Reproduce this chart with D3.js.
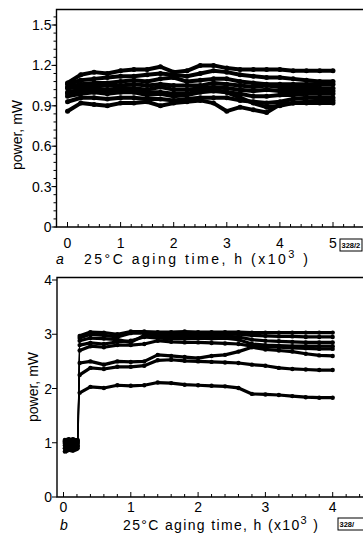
<!DOCTYPE html>
<html><head><meta charset="utf-8">
<script src="https://cdn.jsdelivr.net/npm/d3@7"></script>
<style>
body{margin:0;background:#fff}
svg{display:block}
text{font-family:"Liberation Sans",Arial,sans-serif;fill:#000}
</style>
</head><body>
<svg id="c" width="363" height="536"></svg>
<script>
// ---------- panel a data ----------
const topXTicks = [0, 1, 2, 3, 4, 5];
const topYTicks = [0, 0.3, 0.6, 0.9, 1.2, 1.5];
const topTime = [0,0.25,0.5,0.75,1,1.25,1.5,1.75,2,2.25,2.5,2.75,3,3.25,3.5,3.75,4,4.25,4.5,4.75,5];
const topS1 = [1.07,1.13,1.15,1.14,1.16,1.17,1.17,1.19,1.15,1.16,1.20,1.20,1.18,1.17,1.17,1.17,1.17,1.16,1.16,1.16,1.16];
const topS2 = [1.06,1.09,1.10,1.11,1.12,1.12,1.13,1.14,1.13,1.12,1.14,1.16,1.15,1.13,1.12,1.11,1.11,1.10,1.09,1.08,1.08];
const topS3 = [1.04,1.06,1.07,1.07,1.08,1.09,1.08,1.10,1.11,1.08,1.09,1.10,1.10,1.08,1.07,1.06,1.06,1.06,1.06,1.06,1.06];
const topS4 = [1.03,1.04,1.05,1.05,1.05,1.06,1.05,1.06,1.05,1.05,1.05,1.07,1.06,1.05,1.04,1.05,1.04,1.04,1.04,1.03,1.03];
const topS5 = [1.00,1.02,1.03,1.02,1.03,1.03,1.02,1.04,1.02,1.02,1.03,1.04,1.03,1.02,1.01,1.02,1.01,1.01,1.01,1.01,1.01];
const topS6 = [0.97,0.99,1.00,0.99,1.00,1.00,0.98,0.99,0.97,0.98,1.00,1.01,1.00,0.99,0.97,0.97,0.98,0.98,0.99,0.99,0.99];
const topS7 = [0.93,0.96,0.96,0.95,0.96,0.96,0.95,0.95,0.94,0.95,0.96,0.96,0.96,0.94,0.93,0.92,0.93,0.95,0.96,0.96,0.96];
const topS8 = [0.99,1.00,1.01,1.00,1.01,1.01,1.00,1.00,0.99,0.99,1.01,1.02,1.00,0.96,0.92,0.89,0.90,0.92,0.93,0.94,0.94];
const topS9 = [0.86,0.92,0.91,0.90,0.92,0.92,0.93,0.90,0.92,0.93,0.94,0.92,0.86,0.89,0.87,0.85,0.91,0.92,0.92,0.92,0.92];
const topSeries = [topS1, topS2, topS3, topS4, topS5, topS6, topS7, topS8, topS9];

// ---------- panel b data ----------
const botXTicks = [0, 1, 2, 3, 4];
const botYTicks = [0, 1, 2, 3, 4];
const botTime = [0.02,0.08,0.14,0.21,0.24,0.4,0.6,0.8,1.0,1.2,1.4,1.6,1.8,2.0,2.2,2.4,2.6,2.8,3.0,3.2,3.4,3.6,3.8,4.0];
const botA = [0.84,0.88,0.86,0.90, 1.92,2.03,2.01,2.06,2.05,2.06,2.11,2.10,2.07,2.06,2.05,2.04,2.01,1.90,1.89,1.88,1.86,1.84,1.83,1.83];
const botB = [0.95,0.92,0.97,0.93, 2.25,2.38,2.36,2.40,2.40,2.42,2.52,2.53,2.51,2.50,2.49,2.48,2.47,2.44,2.42,2.38,2.36,2.35,2.34,2.34];
const botC = [1.02,0.98,1.04,1.00, 2.47,2.50,2.44,2.50,2.49,2.50,2.62,2.60,2.58,2.56,2.60,2.62,2.68,2.76,2.72,2.70,2.68,2.64,2.61,2.60];
const botD = [1.05,1.00,1.06,1.02, 2.70,2.78,2.76,2.80,2.80,2.82,2.88,2.86,2.85,2.85,2.84,2.83,2.82,2.78,2.77,2.76,2.75,2.74,2.73,2.73];
const botE = [0.98,1.04,0.99,1.05, 2.80,2.84,2.82,2.86,2.88,2.95,2.93,2.92,2.92,2.93,2.92,2.93,2.90,2.82,2.80,2.79,2.78,2.78,2.78,2.78];
const botF = [1.00,0.96,1.02,0.98, 2.88,2.93,2.92,2.90,2.85,2.98,2.98,2.98,2.97,2.97,2.96,2.96,2.95,2.90,2.88,2.87,2.86,2.85,2.85,2.85];
const botG = [1.03,1.06,1.01,1.04, 2.93,3.00,2.98,2.95,3.02,3.02,3.01,3.01,3.02,3.01,3.00,3.00,3.00,2.98,2.97,2.96,2.96,2.95,2.95,2.95];
const botH = [0.90,0.94,0.91,0.95, 2.97,3.04,3.03,3.00,3.05,3.05,3.04,3.04,3.05,3.04,3.04,3.04,3.04,3.03,3.03,3.03,3.03,3.03,3.03,3.03];
const botSeries = [botA, botB, botC, botD, botE, botF, botG, botH];
const botPreCount = 4;

const svg = d3.select("#c");

function drawPanel(o) {
  const g = svg.append("g");
  const x = d3.scaleLinear().domain(o.xDom).range(o.xRange);
  const y = d3.scaleLinear().domain(o.yDom).range(o.yRange);
  const L = o.left, T = o.top, B = y(0), R = 375;
  g.append("path").attr("d", `M${R},${T}H${L}V${B}H${R}`)
    .attr("fill", "none").attr("stroke", "#000").attr("stroke-width", 1.4);
  d3.range(0, o.xMinorMax + 1e-9, 0.2).forEach(v => {
    const major = Math.abs(v - Math.round(v)) < 1e-6;
    g.append("line").attr("x1", x(v)).attr("x2", x(v))
      .attr("y1", B).attr("y2", B - (major ? 5 : 3))
      .attr("stroke", "#000").attr("stroke-width", 1);
  });
  o.xTicks.forEach(v => {
    g.append("text").attr("x", x(v)).attr("y", o.xLabY).attr("text-anchor", "middle")
      .attr("font-size", 14).text(v);
  });
  if (o.yMinor) {
    d3.range(0, o.yDom[1] + 0.06, o.yMinor).forEach(v => {
      if (y(v) < T) return;
      g.append("line").attr("x1", L).attr("x2", L - 3).attr("y1", y(v)).attr("y2", y(v))
        .attr("stroke", "#000").attr("stroke-width", 1);
    });
  }
  o.yTicks.forEach(v => {
    g.append("line").attr("x1", L).attr("x2", L - 5).attr("y1", y(v)).attr("y2", y(v))
      .attr("stroke", "#000").attr("stroke-width", 1);
    g.append("text").attr("x", L - 5).attr("y", y(v) + 5).attr("text-anchor", "end")
      .attr("font-size", 14).text(v);
  });
  g.append("text").attr("transform", `translate(${o.yTitleX},${o.yTitleY}) rotate(-90)`)
    .attr("text-anchor", "middle").attr("font-size", 14).text("power, mW");
  g.append("text").attr("x", o.letterX).attr("y", o.titleY).attr("font-size", 14)
    .attr("font-style", "italic").text(o.letter);
  const t = g.append("text").attr("x", o.titleX0).attr("y", o.titleY).attr("font-size", 14)
    .attr("textLength", o.titleW).attr("lengthAdjust", "spacing");
  t.append("tspan").text("25°C aging time, h  (x10");
  t.append("tspan").attr("dy", -6).attr("font-size", 11).text("3");
  t.append("tspan").attr("dy", 6).text(" )");
  g.append("rect").attr("x", o.boxX).attr("y", o.boxY).attr("width", o.boxW).attr("height", 12)
    .attr("fill", "none").attr("stroke", "#000").attr("stroke-width", 1);
  g.append("text").attr("x", o.boxX + 1.5).attr("y", o.boxY + 9.3).attr("font-size", 7.5)
    .attr("font-weight", "bold").text(o.code);
  return {g, x, y};
}

// ----- panel a -----
const pa = drawPanel({
  xDom: [0, 5], xRange: [67.5, 333], yDom: [0, 1.5], yRange: [227, 25],
  left: 56.5, top: 9.5, xMinorMax: 5.6, xTicks: topXTicks, yTicks: topYTicks, yMinor: 0.06,
  xLabY: 248, yTitleX: 22, yTitleY: 135, letter: "a", letterX: 56, titleY: 264,
  titleX0: 84, titleW: 224, boxX: 340, boxY: 239, boxW: 22, code: "328/2"
});
const lineA = d3.line().x((d, i) => pa.x(topTime[i])).y(d => pa.y(d));
topSeries.forEach(s => {
  pa.g.append("path").attr("d", lineA(s)).attr("fill", "none").attr("stroke", "#000")
    .attr("stroke-width", 4).attr("stroke-linejoin", "round");
  pa.g.selectAll(null).data(s).enter().append("circle")
    .attr("cx", (d, i) => pa.x(topTime[i])).attr("cy", d => pa.y(d)).attr("r", 2.5).attr("fill", "#000");
});

// ----- panel b -----
const pb = drawPanel({
  xDom: [0, 4], xRange: [63.5, 332.7], yDom: [0, 4], yRange: [497, 280],
  left: 57, top: 277.5, xMinorMax: 4.5, xTicks: botXTicks, yTicks: botYTicks, yMinor: null,
  xLabY: 512, yTitleX: 38, yTitleY: 387, letter: "b", letterX: 60, titleY: 530,
  titleX0: 123, titleW: 195, boxX: 338, boxY: 518, boxW: 30, code: "328/"
});
const lineB = d3.line().x(d => pb.x(d.t)).y(d => pb.y(d.v));
botSeries.forEach(s => {
  const pts = s.map((v, i) => ({t: botTime[i], v}));
  const pre = pts.slice(0, botPreCount), post = pts.slice(botPreCount);
  const jump = pts.slice(botPreCount - 1, botPreCount + 1);
  pb.g.append("path").attr("d", lineB(pre)).attr("fill", "none").attr("stroke", "#000")
    .attr("stroke-width", 5).attr("stroke-linejoin", "round");
  pb.g.append("path").attr("d", lineB(jump)).attr("fill", "none").attr("stroke", "#000")
    .attr("stroke-width", 1);
  pb.g.append("path").attr("d", lineB(post)).attr("fill", "none").attr("stroke", "#000")
    .attr("stroke-width", 3.2).attr("stroke-linejoin", "round");
  pb.g.selectAll(null).data(pts).enter().append("circle")
    .attr("cx", d => pb.x(d.t)).attr("cy", d => pb.y(d.v)).attr("r", 2.2).attr("fill", "#000");
});
</script>
</body></html>
